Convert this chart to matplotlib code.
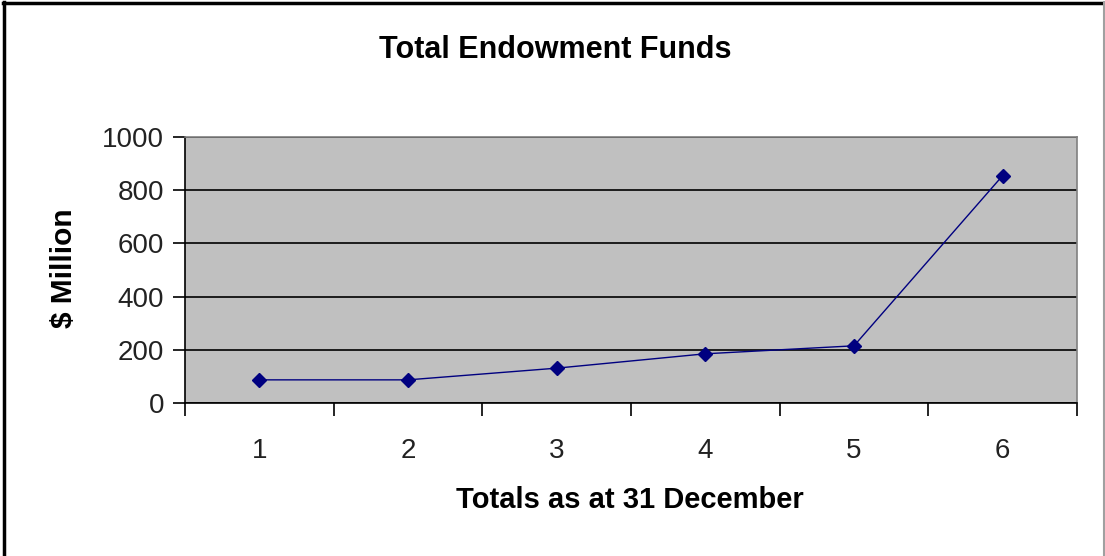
import matplotlib
matplotlib.use("Agg")
import matplotlib.pyplot as plt
from matplotlib.lines import Line2D
import numpy as np

categories = [1, 2, 3, 4, 5, 6]
values = [87, 87, 131, 185, 215, 855]
yticks = [0, 200, 400, 600, 800, 1000]

plt.rcParams['font.family'] = ['Liberation Sans', 'DejaVu Sans']

fig = plt.figure(figsize=(11.05, 5.56), dpi=100)
ax = fig.add_axes([185/1105, 1-403/556, (1077-185)/1105, (403-137)/556])
ax.set_facecolor('#C0C0C0')

x = np.arange(1, len(categories) + 1)
ax.plot(x, values, color='#000080', lw=1.0, marker='D', markersize=7.5,
        markerfacecolor='#000080', markeredgecolor='#000080', zorder=3)

ax.set_xlim(0.5, len(categories) + 0.5)
ax.set_ylim(0, 1000)
ax.set_yticks(yticks)
ax.set_yticklabels([str(t) for t in yticks])
ax.yaxis.grid(True, color='black', lw=1.2)
ax.set_axisbelow(True)

ax.set_xticks(x)
ax.set_xticklabels([str(c) for c in categories])
ax.set_xticks(np.arange(0.5, len(categories) + 1, 1.0), minor=True)
ax.tick_params(axis='x', which='major', length=0, pad=25, labelsize=20, colors='#222222')
ax.tick_params(axis='x', which='minor', length=9, width=1.2, direction='out', color='black')
ax.tick_params(axis='y', length=9, width=1.2, direction='out', labelsize=20, pad=6, colors='#222222')
ax.tick_params(axis='y', color='black')

for s in ['left', 'bottom']:
    ax.spines[s].set_color('black')
    ax.spines[s].set_linewidth(1.2)
for s in ['top', 'right']:
    ax.spines[s].set_color('#808080')
    ax.spines[s].set_linewidth(1.2)

fig.text(555/1105, 1-50/556, 'Total Endowment Funds', ha='center', va='center',
         fontsize=22, fontweight='bold')
fig.text(630/1105, 1-500/556, 'Totals as at 31 December', ha='center', va='center',
         fontsize=21, fontweight='bold')
fig.text(64/1105, 1-268/556, '$ Million', ha='center', va='center', rotation=90,
         fontsize=21.5, fontweight='bold')

# figure border
fig.add_artist(Line2D([3.5/1105, 3.5/1105], [0, 1-2/556], transform=fig.transFigure, color='black', lw=2.5))
fig.add_artist(Line2D([3/1105, 1104/1105], [1-2.5/556, 1-2.5/556], transform=fig.transFigure, color='black', lw=2.5))
fig.add_artist(Line2D([1103.5/1105, 1103.5/1105], [0, 1-2/556], transform=fig.transFigure, color='#A0A0A0', lw=1.5))

fig.savefig('out.png', dpi=100)
